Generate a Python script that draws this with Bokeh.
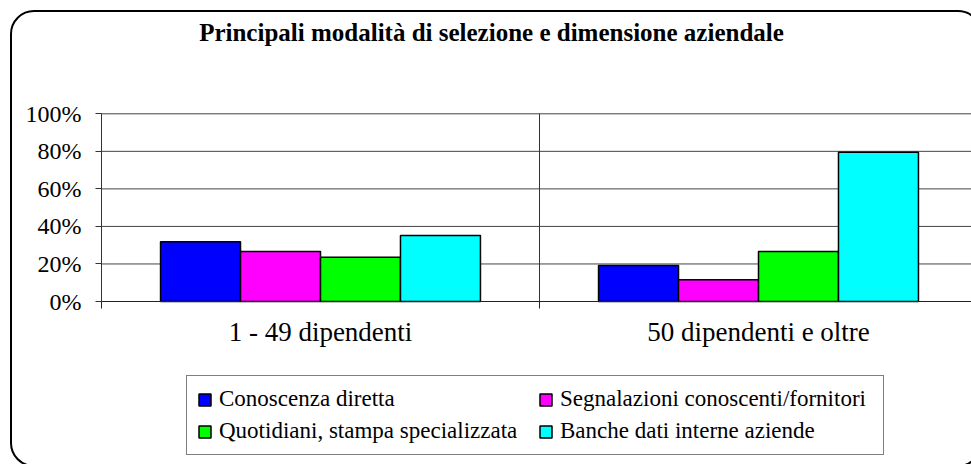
from bokeh.plotting import figure
from bokeh.models import (Range1d, FixedTicker, NumeralTickFormatter, Legend,
                          LegendItem, Label, InlineStyleSheet)
from bokeh.embed import file_html
from bokeh.resources import INLINE

# ---------------- data ----------------
categories = ["1 - 49 dipendenti", "50 dipendenti e oltre"]
series = ["Conoscenza diretta", "Segnalazioni conoscenti/fornitori",
          "Quotidiani, stampa specializzata", "Banche dati interne aziende"]
conoscenza = [0.318, 0.192]
segnalazioni = [0.266, 0.116]
quotidiani = [0.236, 0.266]
banche = [0.352, 0.795]
colors = ["#0000FF", "#FF00FF", "#00FF00", "#00FFFF"]
y_ticks = [0, 0.2, 0.4, 0.6, 0.8, 1.0]
title_text = "Principali modalità di selezione e dimensione aziendale"

FONT = "Liberation Serif"

# ---------------- layout (pixels on the canvas) ----------------
W, H = 971, 464
AX_X, AX_Y = 101, 301      # where the value axis / category axis sit
CAT_PX = 438               # pixels per category
VAL_PX = 187.7             # pixels for 100 %

# the plotting frame covers the whole canvas; axes are pinned at 0
x_range = Range1d(-AX_X / CAT_PX, (W - AX_X) / CAT_PX)
y_range = Range1d(-(H - AX_Y) / VAL_PX, AX_Y / VAL_PX)
x_max = x_range.end

p = figure(width=W, height=H, output_backend="svg", toolbar_location=None,
           x_range=x_range, y_range=y_range,
           min_border=0, min_border_left=0, min_border_right=0,
           min_border_top=0, min_border_bottom=0)
p.outline_line_color = None
p.background_fill_color = "white"
p.border_fill_color = "white"
p.xgrid.visible = False
p.ygrid.visible = False

# outer rounded frame of the whole chart (extends past right/bottom edge)
p.stylesheets = [InlineStyleSheet(css="""
:host { position: relative; }
:host::after {
  content: ''; position: absolute; left: 10px; top: 10px;
  width: 972px; height: 457px; box-sizing: border-box;
  border: 2px solid black; border-radius: 24px; pointer-events: none;
}
""")]

# ---------------- grid lines (limited to the plot area) ----------------
grid_y = y_ticks[1:]
p.segment(x0=[0] * len(grid_y), x1=[x_max] * len(grid_y), y0=grid_y,
          y1=grid_y, line_color="#444444", line_width=1, level="underlay")
sep_x = list(range(1, len(categories)))
p.segment(x0=sep_x, x1=sep_x, y0=[0] * len(sep_x), y1=[1] * len(sep_x),
          line_color="#333333", line_width=1, level="underlay")

# ---------------- bars ----------------
n = len(series)
bw = 0.1826
values = [conoscenza, segnalazioni, quotidiani, banche]
renderers = []
for k, (vals, col) in enumerate(zip(values, colors)):
    xs = [i + 0.5 + (k - (n - 1) / 2) * bw for i in range(len(categories))]
    r = p.vbar(x=xs, top=vals, bottom=0, width=bw, fill_color=col,
               line_color="black", line_width=1.5)
    renderers.append(r)

# ---------------- axes ----------------
xa = p.xaxis[0]
xa.fixed_location = 0
xa.bounds = (0, x_max)
xa.ticker = FixedTicker(ticks=[i + 0.5 for i in range(len(categories))],
                        minor_ticks=list(range(len(categories) + 1)))
xa.major_label_overrides = {i + 0.5: c for i, c in enumerate(categories)}
xa.major_tick_line_color = None
xa.major_tick_out = 7
xa.major_tick_in = 0
xa.minor_tick_line_color = "#222222"
xa.minor_tick_out = 7
xa.minor_tick_in = 0
xa.axis_line_color = "#222222"
xa.major_label_text_font = FONT
xa.major_label_text_font_size = "27px"
xa.major_label_text_color = "black"
xa.major_label_standoff = 8

ya = p.yaxis[0]
ya.fixed_location = 0
ya.bounds = (0, 1)
ya.ticker = FixedTicker(ticks=y_ticks, minor_ticks=[])
ya.formatter = NumeralTickFormatter(format="0%")
ya.major_tick_out = 6
ya.major_tick_in = 0
ya.major_tick_line_color = "#333333"
ya.axis_line_color = "#333333"
ya.major_label_text_font = FONT
ya.major_label_text_font_size = "24px"
ya.major_label_text_color = "black"
ya.major_label_standoff = 14

# ---------------- title ----------------
TITLE_CX, TITLE_BASE = 491, 32
title = Label(x=(TITLE_CX - AX_X) / CAT_PX, y=(AX_Y - TITLE_BASE) / VAL_PX,
              text=title_text, text_font=FONT, text_font_size="25px",
              text_font_style="bold", text_align="center",
              text_baseline="alphabetic", text_color="black")
p.add_layout(title)

# ---------------- legend ----------------
legend = Legend(items=[LegendItem(label=s, renderers=[r])
                       for s, r in zip(series, renderers)],
                orientation="horizontal", ncols=2,
                location=(186, 9), margin=0, padding=10, spacing=6,
                label_height=26, label_width=313,
                glyph_width=15, glyph_height=15, label_standoff=7,
                border_line_color="black", border_line_width=1,
                background_fill_color="white", background_fill_alpha=1,
                label_text_font=FONT, label_text_font_size="23px",
                label_text_color="black")
p.add_layout(legend)

open("out.html", "w").write(file_html(p, INLINE))
